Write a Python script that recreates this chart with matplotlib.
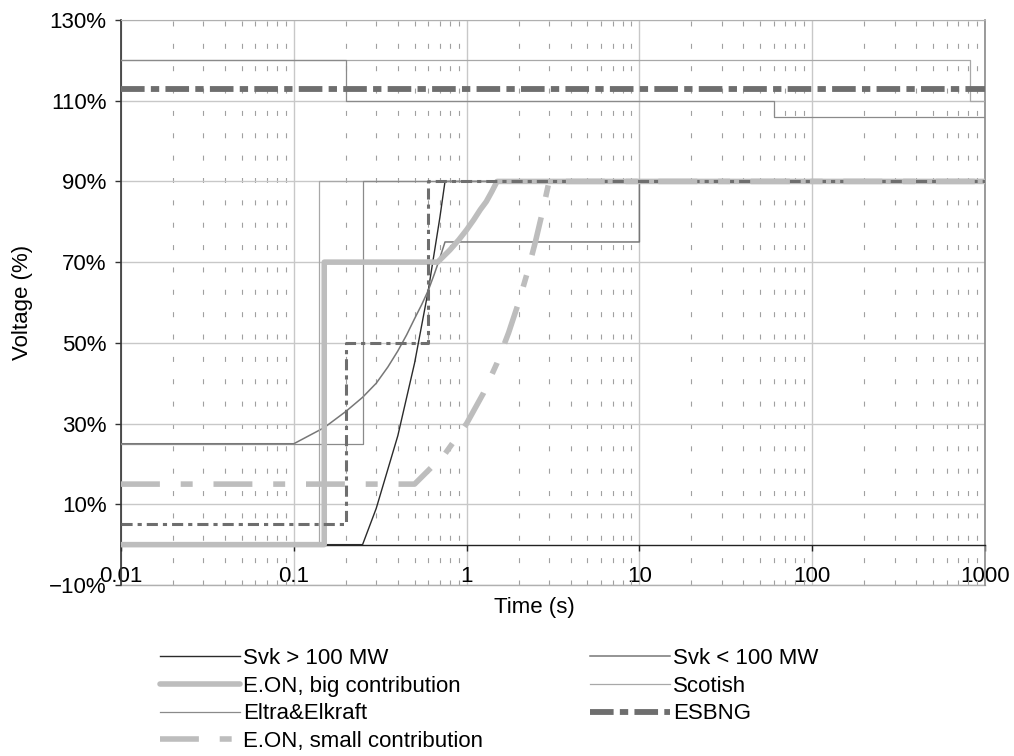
import matplotlib
matplotlib.use('Agg')
import matplotlib.pyplot as plt
from matplotlib.ticker import LogLocator, NullFormatter

plt.rcParams['font.family'] = ['Liberation Sans', 'DejaVu Sans']
plt.rcParams['lines.scale_dashes'] = False

# ride-through curves, time (s) vs voltage (%)
svk_big_t = [0.01, 0.25, 0.3, 0.4, 0.5, 0.6, 0.7, 0.75, 1000]
svk_big_v = [0, 0, 9, 27, 45, 63, 81, 90, 90]

svk_small_t = [0.01, 0.1, 0.15, 0.2, 0.25, 0.3, 0.35, 0.4, 0.45, 0.5, 0.55, 0.6, 0.65, 0.7,
               0.75, 10, 10, 1000]
svk_small_v = [25, 25, 29, 33, 36.5, 40, 44, 48, 52, 56, 59.5, 63, 67, 71,
               75, 75, 90, 90]

eon_big_t = [0.01, 0.15, 0.15, 0.68, 0.8, 0.9, 1.0, 1.1, 1.2, 1.3, 1.4, 1.5, 1000]
eon_big_v = [0, 0, 70, 70, 73, 75.5, 78, 80.5, 83, 85, 87.5, 90, 90]

eon_small_t = [0.01, 0.5, 0.75, 1.0, 1.25, 1.5, 1.75, 2.0, 2.25, 2.5, 2.75, 3.0, 1000]
eon_small_v = [15, 15, 22.5, 30, 37.5, 45, 52.5, 60, 67.5, 75, 82.5, 90, 90]

scot_low_t = [0.01, 0.14, 0.14, 1000]
scot_low_v = [0, 0, 90, 90]
scot_up_t = [0.01, 820, 820, 1000]
scot_up_v = [120, 120, 110, 110]

eltra_low_t = [0.01, 0.25, 0.25, 1000]
eltra_low_v = [25, 25, 90, 90]
eltra_up_t = [0.01, 0.2, 0.2, 60, 60, 1000]
eltra_up_v = [120, 120, 110, 110, 106, 106]

esb_up_t = [0.01, 1000]
esb_up_v = [113, 113]
esb_low_t = [0.01, 0.2, 0.2, 0.6, 0.6, 1000]
esb_low_v = [5, 5, 50, 50, 90, 90]

x_ticks = [0.01, 0.1, 1, 10, 100, 1000]
x_labels = ['0.01', '0.1', '1', '10', '100', '1000']
y_ticks = [-10, 10, 30, 50, 70, 90, 110, 130]
y_labels = [f'{v}%'.replace('-', '\u2212') for v in y_ticks]

fig = plt.figure(figsize=(10.14, 7.56), dpi=100)
ax = fig.add_axes([121 / 1014, 1 - 585 / 756, 864 / 1014, 565 / 756])

h_svk_big, = ax.plot(svk_big_t, svk_big_v, color='#2b2b2b', lw=1.0, zorder=3, label='Svk > 100 MW')
h_svk_small, = ax.plot(svk_small_t, svk_small_v, color='#777777', lw=1.1, zorder=3, label='Svk < 100 MW')
h_scot, = ax.plot(scot_low_t, scot_low_v, color='#a8a8a8', lw=0.9, zorder=3, label='Scotish')
ax.plot(scot_up_t, scot_up_v, color='#a8a8a8', lw=0.9, zorder=3)
h_eltra, = ax.plot(eltra_low_t, eltra_low_v, color='#8a8a8a', lw=0.9, zorder=3, label='Eltra&Elkraft')
ax.plot(eltra_up_t, eltra_up_v, color='#8a8a8a', lw=0.9, zorder=3)
h_eon_big, = ax.plot(eon_big_t, eon_big_v, color='#bdbdbd', lw=4.0, zorder=4,
                     solid_capstyle='round', label='E.ON, big contribution')
h_esb, = ax.plot(esb_up_t, esb_up_v, color='#6e6e6e', lw=4.2, zorder=5,
                 dashes=(17, 4.5, 6, 4.5), label='ESBNG')
ax.plot(esb_low_t, esb_low_v, color='#6e6e6e', lw=2.2, zorder=5, dashes=(8, 3.6, 3, 3.6))
h_eon_small, = ax.plot(eon_small_t, eon_small_v, color='#bdbdbd', lw=4.0, zorder=6,
                       dashes=(28, 15, 8.6, 15), label='E.ON, small contribution')

ax.set_xscale('log')
ax.set_xlim(0.01, 1000)
ax.set_ylim(-10, 130)
ax.set_xticks(x_ticks)
ax.set_xticklabels(x_labels)
ax.xaxis.set_minor_locator(LogLocator(base=10, subs=range(2, 10)))
ax.xaxis.set_minor_formatter(NullFormatter())
ax.set_yticks(y_ticks)
ax.set_yticklabels(y_labels)

ax.set_axisbelow(True)
ax.grid(which='major', color='#c8c8c8', lw=1.0)
ax.grid(which='minor', axis='x', color='#a0a0a0', lw=0.8, linestyle=(0, (3.6, 12.5)))
ax.axhline(-10, color='#b0b0b0', lw=1.0, clip_on=False, zorder=1)

ax.spines['bottom'].set_position(('data', 0))
ax.spines['bottom'].set_color('#222222')
ax.spines['bottom'].set_linewidth(1.0)
ax.spines['left'].set_color('#333333')
ax.spines['left'].set_linewidth(1.2)
ax.spines['top'].set_color('#b0b0b0')
ax.spines['right'].set_color('#8a8a8a')
ax.spines['right'].set_linewidth(1.2)

ax.tick_params(axis='x', which='major', direction='out', length=4.3, width=1.0,
               color='#222222', pad=11, labelsize=16)
ax.tick_params(axis='x', which='minor', length=0)
ax.tick_params(axis='y', direction='out', length=4.3, width=1.0, color='#333333',
               pad=6, labelsize=16)

ax.set_xlabel('Time (s)', fontsize=16)
ax.set_ylabel('Voltage (%)', fontsize=16)
ax.xaxis.set_label_coords(0.479, -0.021)
ax.yaxis.set_label_coords(-0.102, 0.5)

handles = [h_svk_big, h_eon_big, h_eltra, h_eon_small, h_svk_small, h_scot, h_esb]
fig.legend(handles=handles, labels=[h.get_label() for h in handles], ncol=2,
           loc='upper left', bbox_to_anchor=(160 / 1014, 1 - 648 / 756),
           frameon=False, fontsize=16, handlelength=3.6, handletextpad=0.15,
           columnspacing=4.8, labelspacing=0.3, borderpad=0, borderaxespad=0)

fig.savefig('out.png', dpi=100)
